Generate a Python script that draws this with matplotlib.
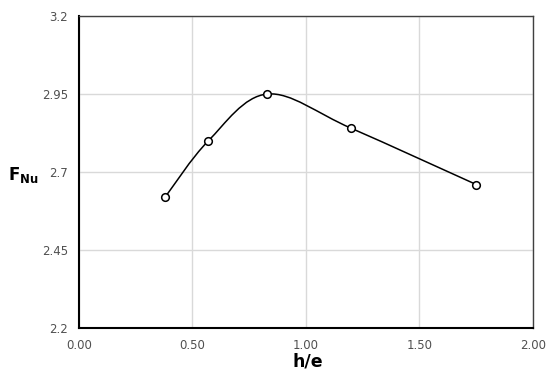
import numpy as np
import matplotlib.pyplot as plt
from matplotlib.path import Path
from matplotlib.patches import PathPatch

# data
h_e = [0.38, 0.57, 0.83, 1.20, 1.75]
f_nu = [2.62, 2.80, 2.95, 2.84, 2.66]
x_ticks = [0.0, 0.5, 1.0, 1.5, 2.0]
y_ticks = [2.2, 2.45, 2.7, 2.95, 3.2]
y_tick_labels = ['2.2', '2.45', '2.7', '2.95', '3.2']

fig = plt.figure(figsize=(5.5, 3.81), dpi=100)
ax = fig.add_axes([0.1436, 0.139, 0.8254, 0.819])

# smoothed line like a spreadsheet "smooth line": cubic bezier segments
pts = np.column_stack([h_e, f_nu])
ext = np.vstack([pts[0], pts, pts[-1]])
verts = [tuple(pts[0])]
codes = [Path.MOVETO]
for i in range(len(pts) - 1):
    p0, p1, p2, p3 = ext[i], ext[i + 1], ext[i + 2], ext[i + 3]
    c1 = p1 + (p2 - p0) / 6
    c2 = p2 - (p3 - p1) / 6
    verts += [tuple(c1), tuple(c2), tuple(p2)]
    codes += [Path.CURVE4] * 3
ax.add_patch(PathPatch(Path(verts, codes), facecolor='none', edgecolor='black',
                       lw=1.1, zorder=3))
ax.plot(h_e, f_nu, ls='none', marker='o', ms=5.5, mfc='white', mec='black',
        mew=1.1, zorder=4)

ax.set_xlim(0, 2)
ax.set_ylim(2.2, 3.2)
ax.set_xticks(x_ticks)
ax.set_xticklabels([f'{v:.2f}' for v in x_ticks])
ax.set_yticks(y_ticks)
ax.set_yticklabels(y_tick_labels)
ax.tick_params(length=0, labelsize=8.5, colors='#505050')
ax.tick_params(axis='x', pad=8)
ax.tick_params(axis='y', pad=8)
ax.grid(True, color='#d9d9d9', lw=1)
ax.set_axisbelow(True)
for s in ['top', 'right']:
    ax.spines[s].set_color('#404040')
    ax.spines[s].set_linewidth(1.0)
for s in ['left', 'bottom']:
    ax.spines[s].set_color('black')
    ax.spines[s].set_linewidth(1.5)

ax.set_xlabel('h/e', fontsize=12.5, fontweight='bold', va='center')
ax.xaxis.set_label_coords(0.503, -0.108)
fig.text(0.015, 0.54, r'F$_{\mathbf{Nu}}$', fontsize=12, fontweight='bold',
         va='center', ha='left')

fig.savefig('out.png', dpi=100)
